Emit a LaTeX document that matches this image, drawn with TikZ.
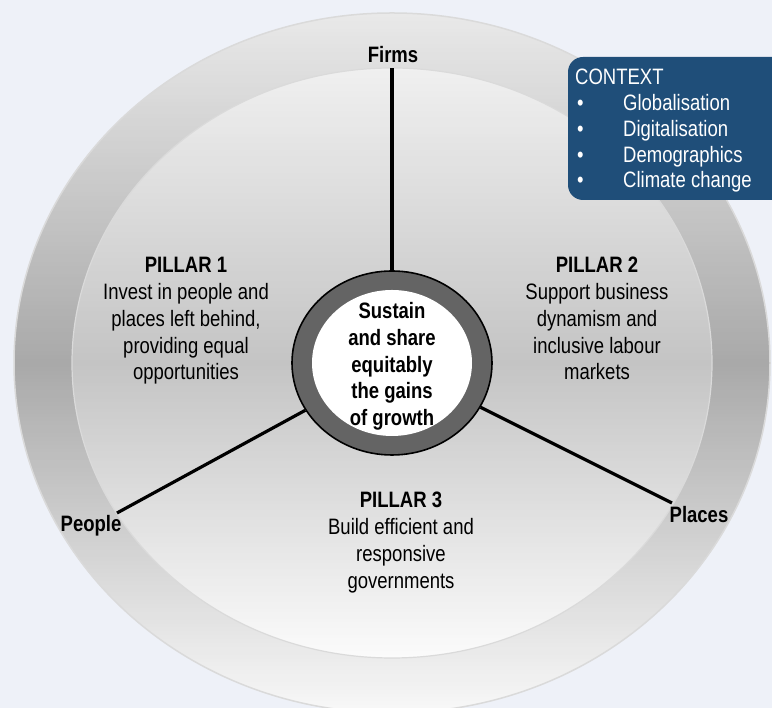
\documentclass[tikz,border=0pt]{standalone}
\usepackage{fontspec}
\setmainfont{Liberation Sans}[FakeStretch=0.83]
\usetikzlibrary{shapes.geometric}
\definecolor{pagebg}{HTML}{EEF1F8}
\definecolor{ctxblue}{HTML}{1F4E79}
\definecolor{hubgray}{HTML}{646464}
\definecolor{ringtop}{HTML}{E9E9E9}
\definecolor{ringmid}{HTML}{A9A9A9}
\definecolor{ringbot}{HTML}{F8F8F8}
\definecolor{disktop}{HTML}{F0F0F0}
\definecolor{diskmid}{HTML}{C4C4C4}
\definecolor{diskbot}{HTML}{FBFBFB}
\definecolor{edgegray}{HTML}{DADADA}
\tikzset{
  lbl/.style={font=\fontsize{22.3}{26.7}\selectfont, align=center, inner sep=0pt},
  lblbold/.style={lbl, font=\fontsize{22.3}{26.7}\selectfont\bfseries},
  spoke/.style={line width=3.2pt, black},
  ctxtext/.style={font=\fontsize{22.3}{25.75}\selectfont, text=white, align=left, inner sep=0pt},
}
\newcommand{\ctxitem}[1]{\makebox[48pt][l]{\hspace{2pt}\textbullet}#1}
% vertical three-colour gradient inside an ellipse centred at (392,345),
% drawn as thin horizontal bands: #1 = y radius, #2/#3/#4 = top/middle/bottom colours
\newcommand{\bandfill}[4]{%
  \pgfmathsetmacro{\bandh}{2*#1/180}%
  \foreach \k in {0,...,179} {%
    \pgfmathsetmacro{\ya}{345-#1+\k*\bandh}%
    \pgfmathsetmacro{\yb}{\ya+\bandh+0.6}%
    \pgfmathsetmacro{\yc}{\ya+0.5*\bandh}%
    \ifdim\yc pt>345pt
      \pgfmathsetmacro{\pc}{min(100,(\yc-345)/#1*100)}%
      \fill[#2!\pc!#3] (0,\ya) rectangle (772,\yb);
    \else
      \pgfmathsetmacro{\pc}{min(100,(345-\yc)/#1*100)}%
      \fill[#4!\pc!#3] (0,\ya) rectangle (772,\yb);
    \fi
  }%
}
\begin{document}
\begin{tikzpicture}[x=1pt,y=1pt]
\useasboundingbox (0,0) rectangle (772,708);
\clip (0,0) rectangle (772,708);
\fill[pagebg] (0,0) rectangle (772,708);

% outer ring
\begin{scope}
  \clip (392,345) ellipse [x radius=378pt, y radius=350pt];
  \bandfill{350}{ringtop}{ringmid}{ringbot}
\end{scope}
\draw[edgegray, line width=1.5pt] (392,345) ellipse [x radius=378pt, y radius=350pt];

% inner disk
\begin{scope}
  \clip (392,345) ellipse [x radius=320pt, y radius=295pt];
  \bandfill{295}{disktop}{diskmid}{diskbot}
\end{scope}
\draw[edgegray, line width=1.2pt] (392,345) ellipse [x radius=320pt, y radius=295pt];

% hub
\node[ellipse, draw=black, line width=1.6pt, fill=hubgray, inner sep=0pt,
      minimum width=200pt, minimum height=184pt] (hub) at (392,345) {};
\node[ellipse, fill=white, inner sep=0pt,
      minimum width=160pt, minimum height=146pt] (core) at (392,345) {};

% spoke ends
\coordinate (firmsEnd) at (392,640);
\coordinate (peopleEnd) at (117,195);
\coordinate (placesEnd) at (672,205);
\draw[spoke] (hub) -- (firmsEnd);
\draw[spoke] (hub) -- (peopleEnd);
\draw[spoke] (hub) -- (placesEnd);

% labels (base anchor = baseline of the last line)
\node[lblbold, anchor=base] (firms) at (393,645.3) {Firms};
\node[lblbold, anchor=base] (people) at (91,176) {People};
\node[lblbold, anchor=base] (places) at (699,185) {Places};

\node[lblbold, anchor=base] (goal) at (392,282.5)
  {Sustain\\and share\\equitably\\the gains\\of growth};

\node[lbl, anchor=base] (p1) at (186,328.2)
  {\textbf{PILLAR 1}\\Invest in people and\\places left behind,\\providing equal\\opportunities};
\node[lbl, anchor=base] (p2) at (597,328.2)
  {\textbf{PILLAR 2}\\Support business\\dynamism and\\inclusive labour\\markets};
\node[lbl, anchor=base] (p3) at (401,119.9)
  {\textbf{PILLAR 3}\\Build efficient and\\responsive\\governments};

% context box
\fill[ctxblue, rounded corners=15pt] (568,651) rectangle (800,508);
\node[ctxtext, anchor=base west] (ctx) at (575,520)
  {CONTEXT\\\ctxitem{Globalisation}\\\ctxitem{Digitalisation}\\\ctxitem{Demographics}\\\ctxitem{Climate change}};
\end{tikzpicture}
\end{document}
